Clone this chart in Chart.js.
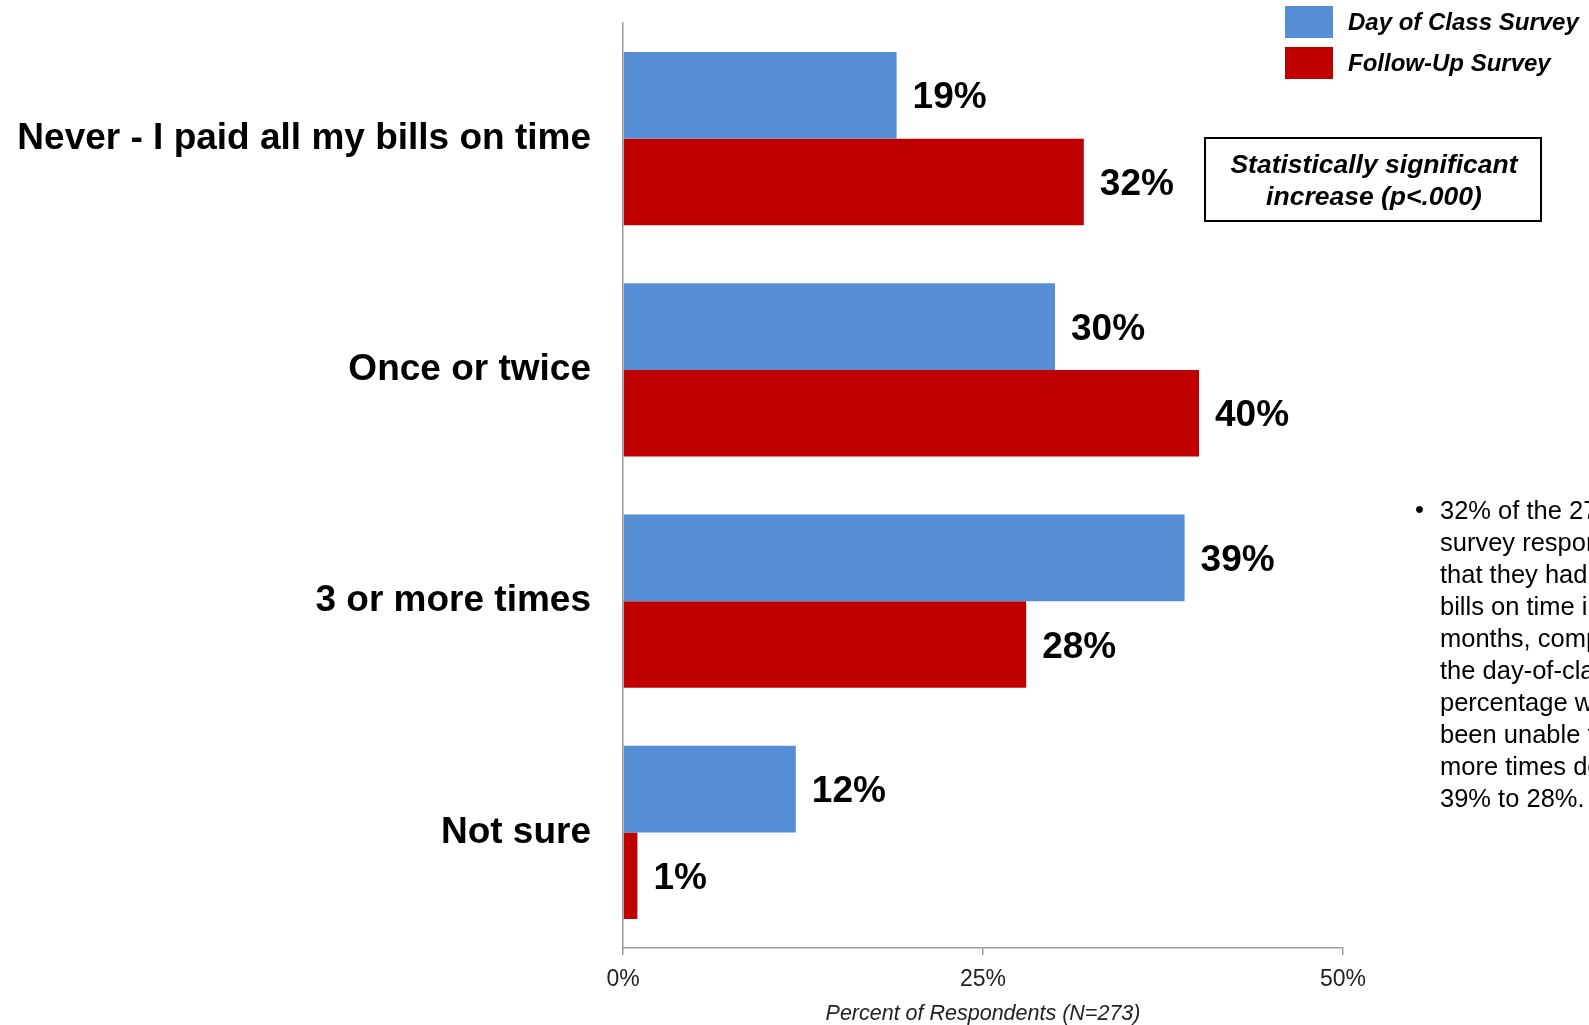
<!DOCTYPE html>
<html>
<head>
<meta charset="utf-8">
<script src="https://cdn.jsdelivr.net/npm/chart.js@4.4.1/dist/chart.umd.min.js"></script>
<style>
  html, body { margin: 0; padding: 0; background: #fff; overflow: hidden; }
  #wrap { position: relative; width: 1589px; height: 1025px; }
</style>
</head>
<body>
<div id="wrap"><canvas id="bills_late"></canvas></div>
<script>
  const categories = ['Never - I paid all my bills on time', 'Once or twice', '3 or more times', 'Not sure'];
  const dayOfClass = [19, 30, 39, 12];
  const followUp = [32, 40, 28, 1];
  const xTicks = [0, 25, 50];

  const seriesNames = ['Day of Class Survey', 'Follow-Up Survey'];
  const seriesColors = ['#558ed5', '#c00000'];

  const noteLines = ['Statistically significant', 'increase (p<.000)'];
  const bulletLines = [
    '32% of the 273 follow-up',
    'survey respondents reported',
    'that they had paid all their',
    'bills on time in the past 6',
    'months, compared to 19% on',
    'the day-of-class survey. The',
    'percentage who said they had',
    'been unable to pay 3 or',
    'more times declined from',
    '39% to 28%.'
  ];

  const FONT = '"Liberation Sans", Arial, sans-serif';

  // value labels, legend, note box and side text
  const extras = {
    id: 'extras',
    afterDatasetsDraw(chart) {
      const ctx = chart.ctx;
      ctx.save();
      ctx.fillStyle = '#000';
      ctx.font = 'bold 37px ' + FONT;
      ctx.textAlign = 'left';
      ctx.textBaseline = 'middle';
      chart.data.datasets.forEach((ds, i) => {
        chart.getDatasetMeta(i).data.forEach((bar, j) => {
          ctx.fillText(ds.data[j] + '%', bar.x + 16, bar.y + 3);
        });
      });

      // legend
      ctx.font = 'italic bold 24px ' + FONT;
      seriesNames.forEach((name, i) => {
        const y = 6 + i * 41;
        ctx.fillStyle = seriesColors[i];
        ctx.fillRect(1285, y, 48, 32);
        ctx.fillStyle = '#000';
        ctx.fillText(name, 1348, y + 17);
      });

      // note box
      ctx.lineWidth = 2;
      ctx.strokeStyle = '#000';
      ctx.strokeRect(1205, 138, 336, 83);
      ctx.font = 'italic bold 26.5px ' + FONT;
      ctx.textAlign = 'center';
      noteLines.forEach((t, i) => ctx.fillText(t, 1374, 166 + i * 32));

      // bullet text on the right
      ctx.font = '25.5px ' + FONT;
      ctx.textAlign = 'left';
      ctx.fillText('\u2022', 1415, 511);
      bulletLines.forEach((t, i) => ctx.fillText(t, 1440, 512 + i * 32));
      ctx.restore();
    }
  };

  const el = document.getElementById('bills_late');

  new Chart(el, {
    type: 'bar',
    data: {
      labels: categories,
      datasets: [{
        label: seriesNames[0],
        data: dayOfClass,
        backgroundColor: seriesColors[0]
      }, {
        label: seriesNames[1],
        data: followUp,
        backgroundColor: seriesColors[1]
      }]
    },
    options: {
      indexAxis: 'y',
      responsive: true,
      maintainAspectRatio: false,
      animation: false,
      layout: { padding: { top: 23, right: 246, left: 0, bottom: 0 } },
      datasets: { bar: { categoryPercentage: 0.75, barPercentage: 1.0 } },
      plugins: {
        legend: { display: false },
        tooltip: { enabled: false }
      },
      scales: {
        x: {
          min: 0,
          max: 50,
          afterFit: (scale) => {
            scale.height = 77;
            scale.paddingLeft = 0;
            scale.paddingRight = 0;
          },
          afterBuildTicks: (scale) => { scale.ticks = xTicks.map(v => ({ value: v })); },
          border: { color: '#9a9a9a', width: 1.5 },
          grid: { drawOnChartArea: false, tickLength: 7, color: '#9a9a9a', lineWidth: 1.5 },
          ticks: {
            padding: 11,
            color: '#222',
            font: { family: '"Liberation Sans Narrow", "Liberation Sans", sans-serif', size: 23 },
            callback: (v) => v + '%'
          },
          title: {
            display: true,
            text: 'Percent of Respondents (N=273)',
            color: '#222',
            padding: { top: 0, bottom: 0 },
            font: { family: '"Liberation Sans Narrow", "Liberation Sans", sans-serif', size: 21.5, style: 'italic', lineHeight: 1 }
          }
        },
        y: {
          afterFit: (scale) => {
            scale.width = 623;
            scale.paddingTop = 0;
            scale.paddingBottom = 0;
          },
          border: { color: '#9a9a9a', width: 1.5 },
          grid: { display: false, drawTicks: false },
          ticks: {
            padding: 32,
            color: '#000',
            font: { family: FONT, size: 37, weight: 'bold' }
          }
        }
      }
    },
    plugins: [extras]
  });
</script>
</body>
</html>
